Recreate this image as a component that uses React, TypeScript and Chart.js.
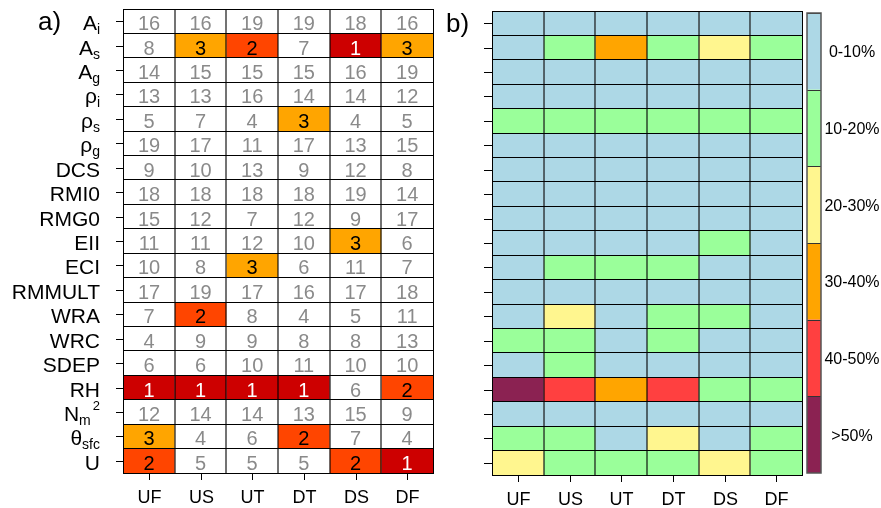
import React, { useEffect, useRef } from 'react';
import { Chart, registerables } from 'chart.js';
Chart.register(...registerables);

const FAM = '"Liberation Sans", Arial, Helvetica, sans-serif';

const columns = ['UF', 'US', 'UT', 'DT', 'DS', 'DF'];
const rowKeys = ['A_i', 'A_s', 'A_g', 'rho_i', 'rho_s', 'rho_g', 'DCS', 'RMI0', 'RMG0', 'EII', 'ECI', 'RMMULT', 'WRA', 'WRC', 'SDEP', 'RH', 'N_m^2', 'theta_sfc', 'U'];
const rowBase = ['A', 'A', 'A', 'ρ', 'ρ', 'ρ', 'DCS', 'RMI0', 'RMG0', 'EII', 'ECI', 'RMMULT', 'WRA', 'WRC', 'SDEP', 'RH', 'N', 'θ', 'U'];
const rowSub = ['i', 's', 'g', 'i', 's', 'g', '', '', '', '', '', '', '', '', '', '', 'm', 'sfc', ''];
const rowSup = ['', '', '', '', '', '', '', '', '', '', '', '', '', '', '', '', '2', '', ''];

// Panel a: rank of each parameter per case (column)
const rankUF = [16, 8, 14, 13, 5, 19, 9, 18, 15, 11, 10, 17, 7, 4, 6, 1, 12, 3, 2];
const rankUS = [16, 3, 15, 13, 7, 17, 10, 18, 12, 11, 8, 19, 2, 9, 6, 1, 14, 4, 5];
const rankUT = [19, 2, 15, 16, 4, 11, 13, 18, 7, 12, 3, 17, 8, 9, 10, 1, 14, 6, 5];
const rankDT = [19, 7, 15, 14, 3, 17, 9, 18, 12, 10, 6, 16, 4, 8, 11, 1, 13, 2, 5];
const rankDS = [18, 1, 16, 14, 4, 13, 12, 19, 9, 3, 11, 17, 5, 8, 10, 6, 15, 7, 2];
const rankDF = [16, 3, 19, 12, 5, 15, 8, 14, 17, 6, 7, 18, 11, 13, 10, 2, 9, 4, 1];
const ranks = [rankUF, rankUS, rankUT, rankDT, rankDS, rankDF];

// Panel b: contribution class index (0: 0-10%, 1: 10-20%, ... 5: >50%)
const classUF = [0, 0, 0, 0, 1, 0, 0, 0, 0, 0, 0, 0, 0, 1, 0, 5, 0, 1, 2];
const classUS = [0, 1, 0, 0, 1, 0, 0, 0, 0, 0, 1, 0, 2, 1, 1, 4, 0, 1, 1];
const classUT = [0, 3, 0, 0, 1, 0, 0, 0, 0, 0, 1, 0, 0, 0, 0, 3, 0, 0, 1];
const classDT = [0, 1, 0, 0, 1, 0, 0, 0, 0, 0, 1, 0, 1, 1, 0, 4, 0, 2, 1];
const classDS = [0, 2, 0, 0, 1, 0, 0, 0, 0, 1, 0, 0, 1, 0, 0, 1, 0, 0, 2];
const classDF = [0, 1, 0, 0, 1, 0, 0, 0, 0, 0, 0, 0, 0, 0, 0, 1, 0, 1, 1];
const classes = [classUF, classUS, classUT, classDT, classDS, classDF];

const classLabels = ['0-10%', '10-20%', '20-30%', '30-40%', '40-50%', '>50%'];
const classColors = ['#ADD8E6', '#9AFF9A', '#FFF68F', '#FFA500', '#FF4040', '#8B2252'];
const rankColor = (r: number) => (r === 1 ? '#CD0000' : r === 2 ? '#FF4500' : r === 3 ? '#FFA500' : '#FFFFFF');

function drawRowLabel(ctx: CanvasRenderingContext2D, i: number, xRight: number, y: number) {
  const base = rowBase[i], sub = rowSub[i], sup = rowSup[i];
  ctx.font = `21px ${FAM}`;
  const wb = ctx.measureText(base).width;
  ctx.font = `14px ${FAM}`;
  const ws = sub ? ctx.measureText(sub).width : 0;
  ctx.font = `13px ${FAM}`;
  const wp = sup ? ctx.measureText(sup).width + 2 : 0;
  const x = xRight - wb - ws - wp;
  const baseline = y + 9;
  ctx.textAlign = 'left';
  ctx.textBaseline = 'alphabetic';
  ctx.fillStyle = '#000';
  ctx.font = `21px ${FAM}`;
  ctx.fillText(base, x, baseline);
  if (sub) {
    ctx.font = `14px ${FAM}`;
    ctx.fillText(sub, x + wb, baseline + 4);
  }
  if (sup) {
    ctx.font = `13px ${FAM}`;
    ctx.fillText(sup, x + wb + ws + 2, baseline - 11);
  }
}

function drawAxesDecor(chart: any, tickLen: number, withLabels: boolean) {
  const ctx = chart.ctx as CanvasRenderingContext2D;
  const ys = chart.scales.y, xs = chart.scales.x, ca = chart.chartArea;
  ctx.save();
  ctx.strokeStyle = '#000';
  ctx.lineWidth = 1;
  rowKeys.forEach((_, i) => {
    const y = Math.round(ys.getPixelForValue(i)) + 0.5;
    ctx.beginPath();
    ctx.moveTo(ca.left - tickLen, y);
    ctx.lineTo(ca.left, y);
    ctx.stroke();
    if (withLabels) drawRowLabel(ctx, i, ca.left - 23, ys.getPixelForValue(i));
  });
  columns.forEach((c, j) => {
    const x = Math.round(xs.getPixelForValue(j + 0.5)) + 0.5;
    ctx.beginPath();
    ctx.moveTo(x, ca.bottom);
    ctx.lineTo(x, ca.bottom + 7);
    ctx.stroke();
    ctx.font = `18px ${FAM}`;
    ctx.fillStyle = '#000';
    ctx.textAlign = 'center';
    ctx.textBaseline = 'alphabetic';
    ctx.fillText(c, x, ca.bottom + 30);
  });
  ctx.restore();
}

const pluginA = {
  id: 'panelA',
  afterDraw(chart: any) {
    const ctx = chart.ctx as CanvasRenderingContext2D;
    ctx.save();
    chart.data.datasets.forEach((_: any, j: number) => {
      const meta = chart.getDatasetMeta(j);
      meta.data.forEach((el: any, i: number) => {
        const p = el.getProps(['x', 'y', 'base'], true);
        const r = ranks[j][i];
        ctx.fillStyle = r === 1 ? '#FFFFFF' : r <= 3 ? '#000000' : '#8a8a8a';
        ctx.font = `20px ${FAM}`;
        ctx.textAlign = 'center';
        ctx.textBaseline = 'alphabetic';
        ctx.fillText(String(r), (p.x + p.base) / 2, p.y + 9);
      });
    });
    ctx.fillStyle = '#000';
    ctx.font = `26px ${FAM}`;
    ctx.textAlign = 'left';
    ctx.fillText('a)', 38, 30);
    ctx.restore();
    drawAxesDecor(chart, 7, true);
  },
};

const pluginB = {
  id: 'panelB',
  afterDraw(chart: any) {
    const ctx = chart.ctx as CanvasRenderingContext2D;
    const ca = chart.chartArea;
    ctx.save();
    ctx.fillStyle = '#000';
    ctx.font = `26px ${FAM}`;
    ctx.textAlign = 'left';
    ctx.fillText('b)', 6, 32);
    // colour key
    const top = ca.top + 2, bottom = ca.bottom - 2;
    const x0 = ca.right + 5, w = 14;
    const h = (bottom - top) / classLabels.length;
    classLabels.forEach((lab, k) => {
      const y0 = top + k * h;
      ctx.fillStyle = classColors[k];
      ctx.fillRect(x0, y0, w, h);
      ctx.strokeStyle = '#333';
      ctx.lineWidth = 1;
      ctx.beginPath();
      ctx.moveTo(x0, Math.round(y0) + 0.5);
      ctx.lineTo(x0 + w, Math.round(y0) + 0.5);
      ctx.stroke();
      ctx.fillStyle = '#000';
      ctx.font = `16px ${FAM}`;
      ctx.textAlign = 'center';
      ctx.textBaseline = 'alphabetic';
      ctx.fillText(lab, ca.right + 50, y0 + h / 2 + 6);
    });
    ctx.strokeStyle = '#555';
    ctx.lineWidth = 1.5;
    ctx.strokeRect(x0, top, w, bottom - top);
    ctx.restore();
    drawAxesDecor(chart, 8, false);
  },
};

function buildConfig(colorsPerCol: string[][], padding: any, plugin: any): any {
  return {
    type: 'bar',
    data: {
      labels: rowKeys,
      datasets: columns.map((c, j) => ({
        label: c,
        data: rowKeys.map(() => [j, j + 1]),
        backgroundColor: colorsPerCol[j],
        borderWidth: 0,
        grouped: false,
        barPercentage: 1,
        categoryPercentage: 1,
        inflateAmount: 0,
      })),
    },
    options: {
      indexAxis: 'y',
      responsive: false,
      animation: false,
      layout: { padding },
      plugins: { legend: { display: false }, tooltip: { enabled: false } },
      scales: {
        y: {
          type: 'category',
          offset: true,
          grid: { offset: true, color: '#000', lineWidth: 1, drawTicks: false, z: 1 },
          border: { display: true, color: '#000', width: 1, z: 2 },
          ticks: { display: false },
          afterFit: (s: any) => { s.width = 0; },
        },
        x: {
          type: 'linear',
          min: 0,
          max: 6,
          grid: {
            color: (c: any) => (c.tick && (c.tick.value === 0 || c.tick.value === 6) ? '#000' : 'rgba(0,0,0,0.55)'),
            lineWidth: (c: any) => (c.tick && (c.tick.value === 0 || c.tick.value === 6) ? 1 : 2),
            drawTicks: false,
            z: 1,
          },
          border: { display: true, color: '#000', width: 1, z: 2 },
          ticks: { display: false, stepSize: 1 },
          afterFit: (s: any) => { s.height = 0; },
        },
      },
    },
    plugins: [plugin],
  };
}

export default function App() {
  const refA = useRef<HTMLCanvasElement>(null);
  const refB = useRef<HTMLCanvasElement>(null);
  useEffect(() => {
    const colorsA = ranks.map((col) => col.map(rankColor));
    const colorsB = classes.map((col) => col.map((k) => classColors[k]));
    const a = new Chart(refA.current as HTMLCanvasElement, buildConfig(colorsA, { left: 123, right: 7, top: 9, bottom: 35 }, pluginA));
    const b = new Chart(refB.current as HTMLCanvasElement, buildConfig(colorsB, { left: 52, right: 79, top: 11, bottom: 33 }, pluginB));
    return () => {
      a.destroy();
      b.destroy();
    };
  }, []);
  return (
    <div style={{ position: 'fixed', left: 0, top: 0, width: 881, height: 508, background: '#fff' }}>
      <canvas ref={refA} width={440} height={508} style={{ position: 'absolute', left: 0, top: 0, width: 440, height: 508 }} />
      <canvas ref={refB} width={441} height={508} style={{ position: 'absolute', left: 440, top: 0, width: 441, height: 508 }} />
    </div>
  );
}
